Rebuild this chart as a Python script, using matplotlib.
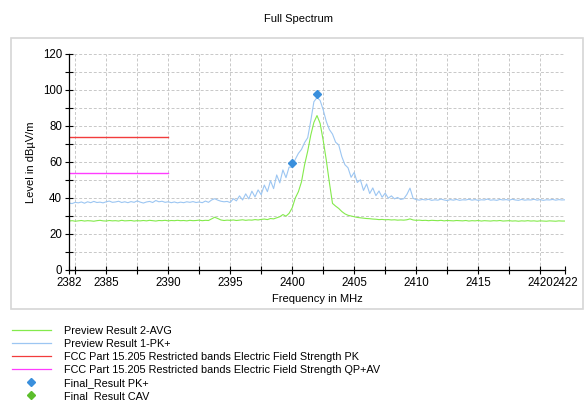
import numpy as np
import matplotlib
matplotlib.use("Agg")
import matplotlib.pyplot as plt
from matplotlib.lines import Line2D
from matplotlib.patches import Rectangle

plt.rcParams["font.family"] = ["Liberation Sans", "DejaVu Sans"]
plt.rcParams["font.size"] = 8

# -- sweep: one reading every 0.25 MHz from 2382 to 2422 MHz
freq = np.arange(2382.0, 2422.001, 0.25)

pk_preview = (
    # 2382.00 - 2393.75
    [37.2, 36.9, 37.6, 37.3, 37.8, 37.1, 37.9, 37.4, 38.1, 37.5, 37.7, 37.3,
     37.9, 38.3, 37.6, 37.8, 38.2, 37.5, 37.9, 37.4, 38.0, 37.6, 38.4, 37.7,
     37.2, 37.8, 38.1, 37.5, 38.6, 37.9, 38.2, 37.6, 37.9, 37.4, 37.8, 37.3,
     37.7, 37.4, 37.9, 37.6, 38.0, 37.5, 37.8, 37.4, 38.3, 37.6, 38.9, 39.6]
    # 2394.00 - 2399.75
    + [38.8, 38.2, 37.9, 38.1, 37.5, 39.6, 38.4, 41.2, 38.9, 42.3, 39.5, 43.8,
       40.6, 44.5, 41.8, 47.2, 43.5, 49.6, 45.2, 52.8, 48.4, 55.6, 51.3, 57.2]
    # 2400.00 - 2409.75
    + [57.0, 61.5, 64.8, 67.0, 70.8, 73.5, 83.0, 93.5, 95.8, 94.2, 89.0, 82.5,
       78.0, 75.5, 71.0, 69.5, 63.0, 58.5, 56.8, 51.5, 54.2, 48.6, 50.1, 44.2,
       47.8, 42.5, 45.6, 41.3, 43.9, 40.4, 42.7, 39.9, 41.2, 39.5, 40.3, 39.2,
       39.6, 42.0, 45.5, 39.8]
    # 2410.00 - 2422.00
    + [39.1, 38.8, 39.2, 38.9, 39.3, 38.7, 39.0, 38.8, 39.4, 38.9, 38.6, 39.1,
       38.8, 39.2, 38.7, 39.0, 38.9, 39.3, 38.8, 39.1, 38.7, 39.0, 38.9, 39.4,
       38.8, 39.0, 38.7, 39.2, 38.9, 39.1, 38.8, 39.3, 38.9, 38.7, 39.2, 38.8,
       39.0, 38.9, 39.3, 38.8, 39.1, 38.7, 39.0, 38.9, 39.2, 38.8, 39.1, 38.9,
       39.0]
)

avg_preview = (
    # 2382.00 - 2393.75
    [27.2, 27.4, 27.1, 27.3, 27.5, 27.2, 27.4, 27.3, 27.1, 27.4, 27.6, 27.3,
     27.2, 27.5, 27.3, 27.4, 27.2, 27.6, 27.3, 27.4, 27.5, 27.2, 27.4, 27.3,
     27.5, 27.3, 27.6, 27.4, 27.2, 27.5, 27.4, 27.6, 27.3, 27.5, 27.4, 27.6,
     27.4, 27.5, 27.3, 27.6, 27.4, 27.5, 27.7, 27.4, 27.6, 27.5, 28.4, 29.3]
    # 2394.00 - 2399.75
    + [28.6, 27.8, 27.5, 27.7, 27.6, 27.8, 27.5, 27.7, 27.9, 27.6, 27.8, 27.7,
       28.0, 27.8, 28.1, 28.3, 28.0, 28.6, 28.4, 29.0, 29.6, 30.8, 29.9, 31.5]
    # 2400.00 - 2409.75
    + [34.5, 40.0, 43.5, 49.0, 58.5, 66.0, 75.0, 82.0, 85.8, 81.5, 72.0, 61.0,
       48.5, 37.0, 35.5, 34.2, 32.5, 31.2, 30.4, 30.0, 29.6, 29.2, 29.0, 28.8,
       28.6, 28.5, 28.3, 28.2, 28.0, 28.1, 27.9, 28.0, 27.8, 27.9, 27.7, 27.8,
       27.7, 27.9, 28.4, 27.8]
    # 2410.00 - 2422.00
    + [27.6, 27.7, 27.5, 27.6, 27.4, 27.6, 27.5, 27.4, 27.6, 27.3, 27.5, 27.4,
       27.3, 27.5, 27.4, 27.3, 27.5, 27.2, 27.4, 27.3, 27.5, 27.2, 27.4, 27.3,
       27.2, 27.4, 27.3, 27.5, 27.2, 27.3, 27.4, 27.2, 27.3, 27.1, 27.3, 27.2,
       27.4, 27.2, 27.3, 27.1, 27.3, 27.2, 27.1, 27.3, 27.2, 27.1, 27.3, 27.2,
       27.2]
)

# -- limit lines (restricted band edge)
limit_freq = [2382, 2390]
limit_pk = [74, 74]
limit_av = [54, 54]

# -- final measurements
final_pk_freq = [2400.0, 2402.0]
final_pk_level = [59.5, 97.8]
final_cav_freq = []
final_cav_level = []

xtick_labels = [2382, 2385, 2390, 2395, 2400, 2405, 2410, 2415, 2420, 2422]

c_avg = "#84ea4c"
c_pk = "#9cc6f2"
c_red = "#f23c3c"
c_mag = "#ff3cff"
c_fpk = "#3a8fdc"
c_fcav = "#5cbe2c"

fig = plt.figure(figsize=(5.88, 4.01), dpi=100)
ax = fig.add_axes([69 / 588, 1 - 270 / 401, 496 / 588, 216 / 401])

# -- outer frame of the chart area
fig.add_artist(Rectangle((11 / 588, 1 - 309 / 401), 572 / 588, 271 / 401,
                         transform=fig.transFigure, fill=False,
                         edgecolor="#d6d6d6", lw=1.2))

ax.plot(freq, avg_preview, color=c_avg, lw=0.8)
ax.plot(freq, pk_preview, color=c_pk, lw=0.8)
ax.plot(limit_freq, limit_pk, color=c_red, lw=1.0)
ax.plot(limit_freq, limit_av, color=c_mag, lw=1.0)
ax.plot(final_pk_freq, final_pk_level, ls="none", marker="D", ms=4.5,
        color=c_fpk)
ax.plot(final_cav_freq, final_cav_level, ls="none", marker="D", ms=4.5,
        color=c_fcav)

ax.set_xlim(2382, 2422)
ax.set_ylim(0, 120)
ax.set_xticks(xtick_labels)
ax.set_xticks(np.arange(2382.5, 2422, 2.5), minor=True)
ax.set_yticks(np.arange(0, 121, 20))
ax.set_yticks(np.arange(10, 120, 20), minor=True)
ax.tick_params(axis="both", which="both", direction="inout", length=6,
               width=0.8, pad=2, labelsize=8.3)

ax.grid(True, which="both", color="#c8c8c8", ls=(0, (3, 2)), lw=0.7)
ax.set_axisbelow(True)
for side in ["top", "right"]:
    ax.spines[side].set_visible(False)
for side in ["left", "bottom"]:
    ax.spines[side].set_linewidth(0.9)

ax.set_xlabel("Frequency in MHz", labelpad=4)
ax.set_ylabel("Level in dBµV/m", labelpad=5)
fig.text(298 / 588, 1 - 19 / 401, "Full Spectrum", ha="center", va="center")

# -- legend below the chart
handles = [
    Line2D([], [], color=c_avg, lw=0.9, label="Preview Result 2-AVG"),
    Line2D([], [], color=c_pk, lw=0.9, label="Preview Result 1-PK+"),
    Line2D([], [], color=c_red, lw=0.9,
           label="FCC Part 15.205 Restricted bands Electric Field Strength PK"),
    Line2D([], [], color=c_mag, lw=0.9,
           label="FCC Part 15.205 Restricted bands Electric Field Strength QP+AV"),
    Line2D([], [], color=c_fpk, ls="none", marker="D", ms=4,
           label="Final_Result PK+"),
    Line2D([], [], color=c_fcav, ls="none", marker="D", ms=4,
           label="Final_Result CAV"),
]
fig.legend(handles=handles, loc="upper left",
           bbox_to_anchor=(12 / 588, 1 - 326 / 401), frameon=False,
           borderpad=0, borderaxespad=0, handlelength=3.6,
           handletextpad=1.2, labelspacing=0.28, fontsize=7.8)

fig.savefig("out.png", dpi=100)
